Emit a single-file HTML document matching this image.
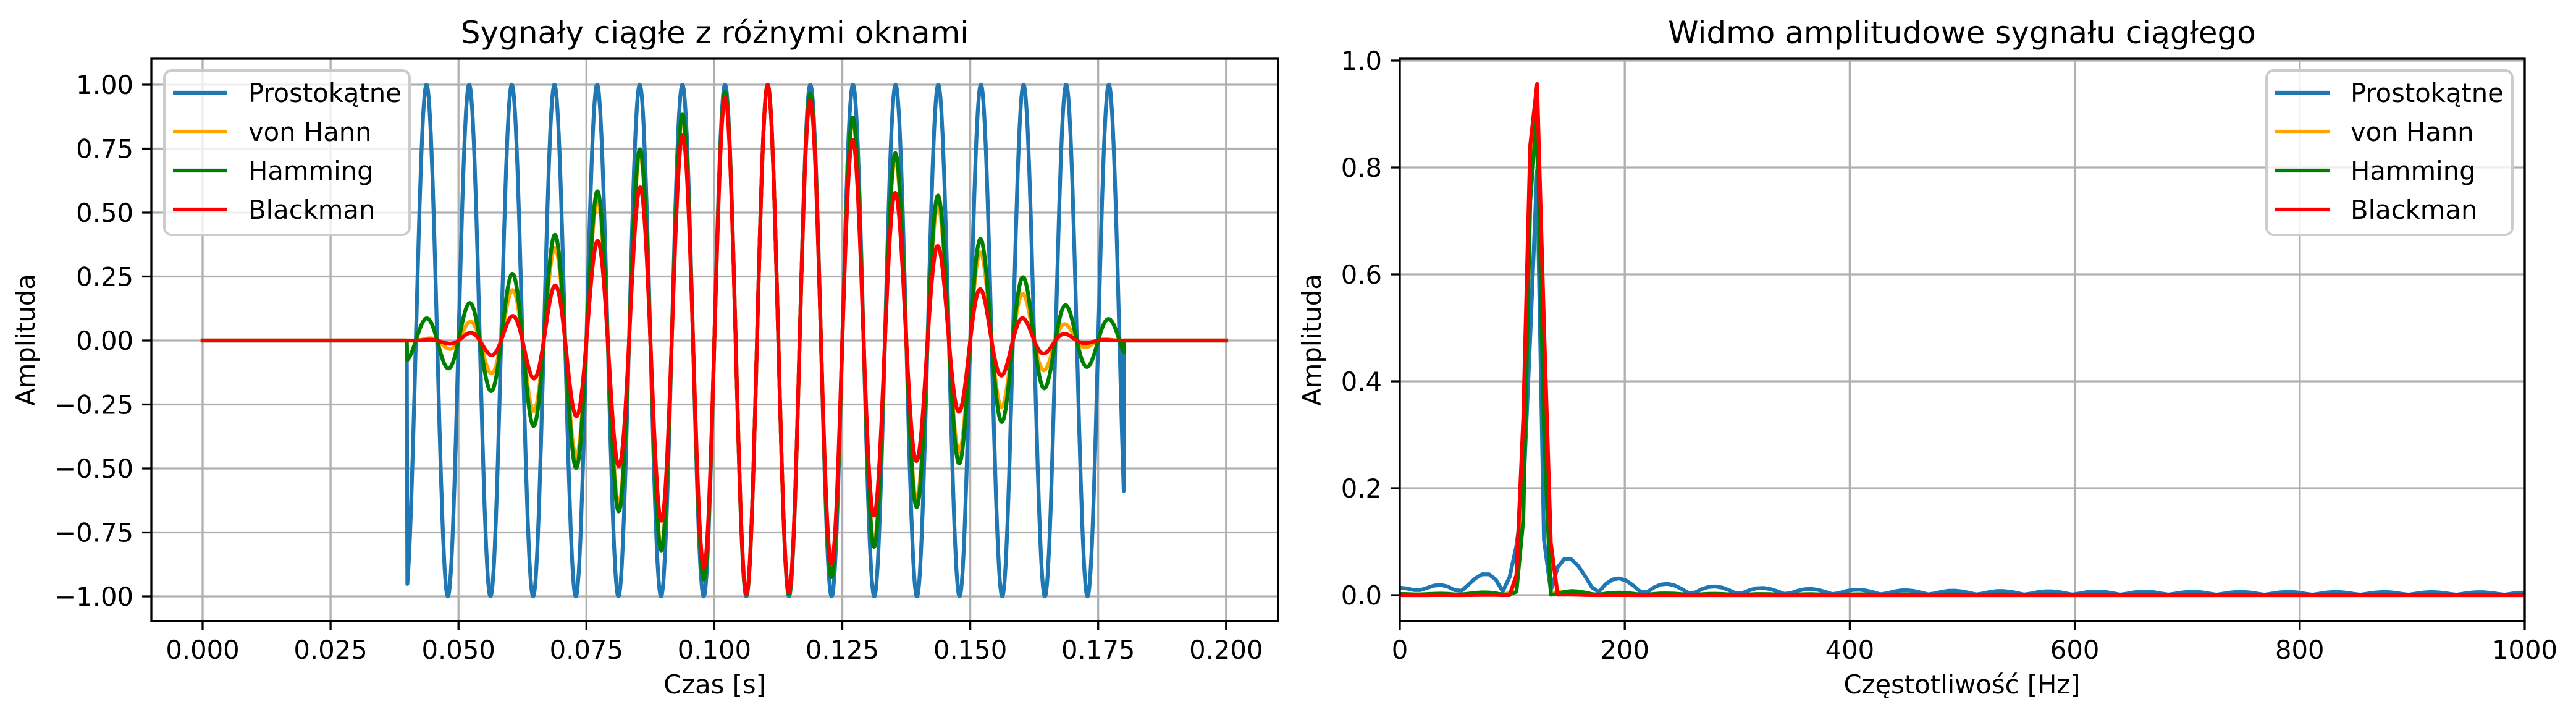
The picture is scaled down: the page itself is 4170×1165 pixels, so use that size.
<!DOCTYPE html>
<html><head><meta charset="utf-8">
<style>
html,body{margin:0;padding:0;background:#fff;}
svg{display:block;}
text{font-family:"DejaVu Sans","Liberation Sans",sans-serif;fill:#000;}
</style></head>
<body>
<svg id="s" xmlns="http://www.w3.org/2000/svg" width="4170" height="1165" viewBox="0 0 4170 1165">
<defs>
<clipPath id="cl"><rect x="245" y="95" width="1824" height="910"/></clipPath>
<clipPath id="cr"><rect x="2266" y="95" width="1821" height="910"/></clipPath>
</defs>
<rect width="4170" height="1165" fill="#fff"/>
<g id="gridL" stroke="#b0b0b0" stroke-width="3.3"></g>
<g id="gridR" stroke="#b0b0b0" stroke-width="3.3"></g>
<g id="linesL" clip-path="url(#cl)" fill="none" stroke-width="6.25" stroke-linejoin="round" stroke-linecap="square"></g>
<g id="linesR" clip-path="url(#cr)" fill="none" stroke-width="6.25" stroke-linejoin="round" stroke-linecap="square"></g>
<g fill="none" stroke="#000" stroke-width="3.3" stroke-linecap="square">
<rect x="245" y="95" width="1824" height="910"/>
<rect x="2266" y="95" width="1821" height="910"/>
</g>
<g id="ticks" stroke="#000" stroke-width="3.3"></g>
<g id="labels" font-size="41.7"></g>
<text x="1157" y="70" font-size="50" text-anchor="middle">Sygnały ciągłe z różnymi oknami</text>
<text x="3176" y="70" font-size="50" text-anchor="middle">Widmo amplitudowe sygnału ciągłego</text>
<text x="1157" y="1122" font-size="41.7" text-anchor="middle">Czas [s]</text>
<text x="3176" y="1122" font-size="41.7" text-anchor="middle">Częstotliwość [Hz]</text>
<text transform="translate(56,550) rotate(-90)" font-size="41.7" text-anchor="middle">Amplituda</text>
<text transform="translate(2138,550) rotate(-90)" font-size="41.7" text-anchor="middle">Amplituda</text>
<g id="legends"></g>
</svg>
<script>
(function(){
var NS="http://www.w3.org/2000/svg";
function el(p,tag,attrs,txt){var e=document.createElementNS(NS,tag);for(var k in attrs)e.setAttribute(k,attrs[k]);if(txt!==undefined)e.textContent=txt;p.appendChild(e);return e;}
var g=function(id){return document.getElementById(id);};
var cols=["#1f77b4","#ffa500","#008000","#ff0000"];
var names=["Prostokątne","von Hann","Hamming","Blackman"];
function LX(t){return 328+t*8284;} function LY(v){return 551-v*414;}
function RX(f){return 2266+f*1.821;} function RY(v){return 963-v*865;}
var xt=["0.000","0.025","0.050","0.075","0.100","0.125","0.150","0.175","0.200"];
for(var i=0;i<9;i++){var x=LX(i*0.025);
 el(g("gridL"),"line",{x1:x,y1:95,x2:x,y2:1005});
 el(g("ticks"),"line",{x1:x,y1:1005,x2:x,y2:1020});
 el(g("labels"),"text",{x:x,y:1066,"text-anchor":"middle"},xt[i]);}
var yt=["−1.00","−0.75","−0.50","−0.25","0.00","0.25","0.50","0.75","1.00"];
for(var i=0;i<9;i++){var v=-1+i*0.25,y=LY(v);
 el(g("gridL"),"line",{x1:245,y1:y,x2:2069,y2:y});
 el(g("ticks"),"line",{x1:230,y1:y,x2:245,y2:y});
 el(g("labels"),"text",{x:216,y:y+15,"text-anchor":"end"},yt[i]);}
for(var i=0;i<=5;i++){var x=RX(i*200);
 el(g("gridR"),"line",{x1:x,y1:95,x2:x,y2:1005});
 el(g("ticks"),"line",{x1:x,y1:1005,x2:x,y2:1020});
 el(g("labels"),"text",{x:x,y:1066,"text-anchor":"middle"},String(i*200));}
for(var i=0;i<=5;i++){var v=i*0.2,y=RY(v);
 el(g("gridR"),"line",{x1:2266,y1:y,x2:4087,y2:y});
 el(g("ticks"),"line",{x1:2251,y1:y,x2:2266,y2:y});
 el(g("labels"),"text",{x:2237,y:y+15,"text-anchor":"end"},v.toFixed(1));}
function win(type,n,N){var a=2*Math.PI*n/(N-1);
 if(type==0)return 1; if(type==1)return 0.5-0.5*Math.cos(a);
 if(type==2)return 0.54-0.46*Math.cos(a); return 0.42-0.5*Math.cos(a)+0.08*Math.cos(2*a);}
var fs=10000,t0=0.04,t1=0.18,N=Math.round((t1-t0)*fs)+1;
for(var w=0;w<4;w++){var d="";
 for(var k=0;k<=2000;k++){var t=k/fs,v=0;
  if(t>=t0-1e-9&&t<=t1+1e-9){var n=Math.round((t-t0)*fs);v=Math.sin(2*Math.PI*120*t)*win(w,n,N);}
  d+=(k?"L":"M")+LX(t).toFixed(1)+" "+LY(v).toFixed(1);}
 el(g("linesL"),"path",{d:d,stroke:cols[w]});}
var fs2=2000,N2=Math.round((t1-t0)*fs2)+1,targets=[0.795,0.93,0.905,0.956],df=6.1;
for(var w=0;w<4;w++){var sw=0,ws=[],ss=[],ts=[];
 for(var n=0;n<N2;n++){var t=t0+n/fs2;ws.push(win(w,n,N2));sw+=ws[n];ss.push(Math.sin(2*Math.PI*120*t));ts.push(t);}
 var fr=[],mg=[],mx=0;
 for(var f=0;f<=1000.001;f+=df){var re=0,im=0;
  for(var n=0;n<N2;n++){var a=2*Math.PI*f*ts[n],v=ws[n]*ss[n];re+=v*Math.cos(a);im-=v*Math.sin(a);}
  var m=2*Math.sqrt(re*re+im*im)/sw;fr.push(f);mg.push(m);if(m>mx)mx=m;}
 var sc=targets[w]/mx,d="";
 for(var i=0;i<fr.length;i++)d+=(i?"L":"M")+RX(fr[i]).toFixed(1)+" "+RY(mg[i]*sc).toFixed(1);
 d+="L"+RX(1000)+" "+RY(mg[mg.length-1]*sc).toFixed(1);
 el(g("linesR"),"path",{d:d,stroke:cols[w]});}
function legend(x0,x1){var L=g("legends");
 el(L,"rect",{x:x0,y:114,width:x1-x0,height:266,rx:12,fill:"#fff","fill-opacity":0.8,stroke:"#cccccc","stroke-width":4});
 for(var i=0;i<4;i++){var y=150+i*63;
  el(L,"line",{x1:x0+14,y1:y,x2:x0+102,y2:y,stroke:cols[i],"stroke-width":6.25});
  el(L,"text",{x:x0+136,y:y+15,"font-size":41.7},names[i]);}}
legend(266,663);legend(3669,4067);
})();
</script>
</body></html>
